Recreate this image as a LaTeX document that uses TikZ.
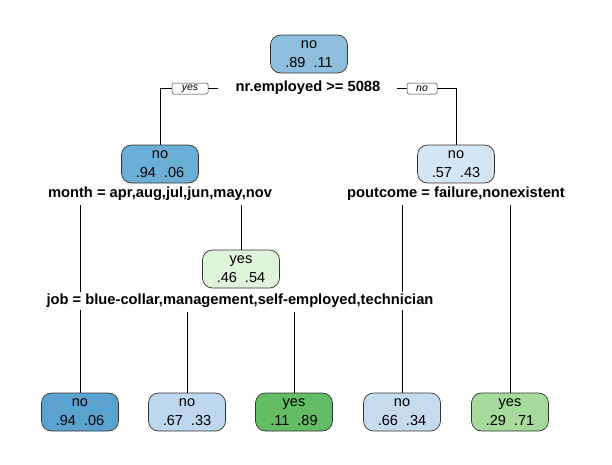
\documentclass[tikz,border=0pt]{standalone}
\usepackage{fontspec}
\setmainfont{Liberation Sans}
\usetikzlibrary{backgrounds}
\definecolor{croot}{HTML}{8EBFDD}
\definecolor{cntwo}{HTML}{6BAED6}
\definecolor{cnthree}{HTML}{D4E5F4}
\definecolor{cyes}{HTML}{E0F3DB}
\definecolor{clone}{HTML}{5AA2D0}
\definecolor{cltwo}{HTML}{BDD7EE}
\definecolor{clthree}{HTML}{64BC64}
\definecolor{clfour}{HTML}{C6DBEF}
\definecolor{clfive}{HTML}{A7DB9D}
\definecolor{edge}{HTML}{333333}
\tikzset{
  treenode/.style={draw=edge, line width=0.7pt, rounded corners=10pt, minimum width=77pt, minimum height=38pt, inner sep=0pt, align=center, font=\fontsize{14.5}{18.5}\selectfont},
  splitlab/.style={fill=white, inner sep=2pt, font=\fontsize{14.7}{16}\selectfont\bfseries},
  branchlab/.style={draw=edge, line width=0.5pt, fill=white, rounded corners=1.5pt, minimum height=11pt, inner sep=0pt, font=\fontsize{10.5}{12}\selectfont\itshape},
  conn/.style={draw=black, line width=0.6pt}
}
\begin{document}
\begin{tikzpicture}[x=1pt,y=-1pt]
\useasboundingbox (0,0) rectangle (612,464);
% nodes
\node[treenode, fill=croot] (root) at (309,54) {no\\.89\hspace{8pt}.11};
\node[splitlab] (s1) at (308,88) {nr.employed >= 5088};
\node[treenode, fill=cntwo] (n2) at (160,164) {no\\.94\hspace{8pt}.06};
\node[treenode, fill=cnthree] (n3) at (456,164) {no\\.57\hspace{8pt}.43};
\node[splitlab] (s2) at (160,194) {month = apr,aug,jul,jun,may,nov};
\node[splitlab] (s3) at (456,194) {poutcome = failure,nonexistent};
\node[treenode, fill=cyes] (n4) at (241,269) {yes\\.46\hspace{8pt}.54};
\node[splitlab] (s4) at (240,301) {job = blue-collar,management,self-employed,technician};
\node[treenode, fill=clone] (l1) at (80,412) {no\\.94\hspace{8pt}.06};
\node[treenode, fill=cltwo] (l2) at (187,412) {no\\.67\hspace{8pt}.33};
\node[treenode, fill=clthree] (l3) at (294,412) {yes\\.11\hspace{8pt}.89};
\node[treenode, fill=clfour] (l4) at (402,412) {no\\.66\hspace{8pt}.34};
\node[treenode, fill=clfive] (l5) at (510,412) {yes\\.29\hspace{8pt}.71};
\node[branchlab, minimum width=36pt] (by) at (190,88.5) {yes};
\node[branchlab, minimum width=30pt] (bn) at (422,88.5) {no};
% coordinates
\coordinate (ly) at (218,88.5);
\coordinate (ry) at (397,88.5);
\coordinate (m1) at (80,205);
\coordinate (m2) at (241,205);
\coordinate (p1) at (402,205);
\coordinate (p2) at (510,205);
\coordinate (j2) at (187,312);
\coordinate (j3) at (294,312);
\begin{scope}[on background layer]
\draw[conn] (ly) -| (n2.north);
\draw[conn] (ry) -| (n3.north);
\draw[conn] (m1) -- (l1.north);
\draw[conn] (m2) -- (n4.north);
\draw[conn] (p1) -- (l4.north);
\draw[conn] (p2) -- (l5.north);
\draw[conn] (j2) -- (l2.north);
\draw[conn] (j3) -- (l3.north);
\end{scope}
\end{tikzpicture}
\end{document}
